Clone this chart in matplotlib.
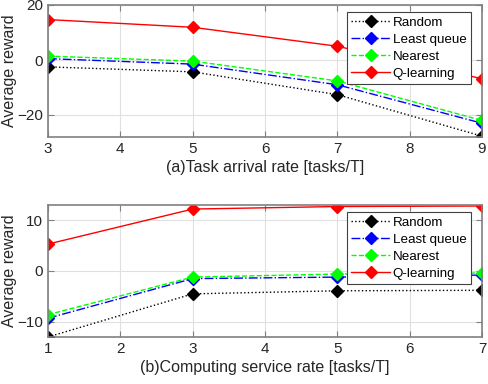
import matplotlib.pyplot as plt

plt.rcParams['font.family'] = ['Liberation Sans', 'DejaVu Sans']

names = ['Random', 'Least queue', 'Nearest', 'Q-learning']
colors = ['black', 'blue', '#00ff00', 'red']
styles = [':', '-.', '--', '-']

arrival = [3, 5, 7, 9]
arr_random = [-2.5, -4.3, -12.6, -27.7]
arr_least = [0.5, -1.5, -9.0, -23.0]
arr_nearest = [1.4, -0.4, -7.6, -22.0]
arr_q = [14.7, 11.9, 5.0, -6.8]

service = [1, 3, 5, 7]
svc_random = [-13.0, -4.5, -3.9, -3.8]
svc_least = [-9.3, -1.5, -1.2, -0.8]
svc_nearest = [-8.6, -1.2, -0.6, -0.4]
svc_q = [5.3, 12.2, 12.7, 12.8]

fig = plt.figure(figsize=(4.88, 3.84), dpi=100)
ax1 = fig.add_axes([48/488, 1-137/384, 434/488, 132/384])
ax2 = fig.add_axes([48/488, 1-337/384, 434/488, 132/384])

def draw(ax, x, series, xlabel, ylim, yticks):
    for s, n, c, ls in zip(series, names, colors, styles):
        ax.plot(x, s, color=c, linestyle=ls, marker='D', markersize=6,
                markerfacecolor=c, markeredgecolor=c, linewidth=1, label=n)
    ax.set_xlim(x[0], x[-1])
    ax.set_ylim(*ylim)
    ax.set_yticks(yticks)
    ax.set_xticks(range(x[0], x[-1] + 1))
    ax.grid(True, color='#e0e0e0', linewidth=0.8)
    ax.set_axisbelow(True)
    for sp in ax.spines.values():
        sp.set_color('#808080')
        sp.set_linewidth(1.2)
    ax.tick_params(direction='in', colors='#262626', labelsize=11, length=4,
                   top=True, right=True)
    ax.tick_params(axis='both', color='#808080')
    ax.set_xlabel(xlabel, fontsize=11.5, color='#262626', labelpad=3)
    ax.set_ylabel('Average reward', fontsize=11.5, color='#262626', labelpad=0)
    leg = ax.legend(loc='upper right', bbox_to_anchor=(0.975, 0.95), fontsize=9.6,
                    fancybox=False, framealpha=1, handlelength=2.9,
                    borderpad=0.35, labelspacing=0.35, handletextpad=0.2,
                    borderaxespad=0)
    leg.get_frame().set_edgecolor('#404040')
    leg.get_frame().set_linewidth(0.8)

draw(ax1, arrival, [arr_random, arr_least, arr_nearest, arr_q],
     '(a)Task arrival rate [tasks/T]', (-28, 20), [-20, 0, 20])
draw(ax2, service, [svc_random, svc_least, svc_nearest, svc_q],
     '(b)Computing service rate [tasks/T]', (-13, 13), [-10, 0, 10])

fig.savefig('out.png', dpi=100)
